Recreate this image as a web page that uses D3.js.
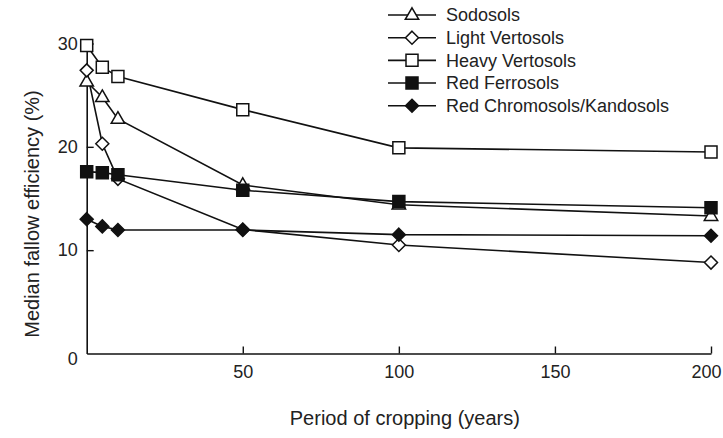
<!DOCTYPE html>
<html>
<head>
<meta charset="utf-8">
<script src="https://cdn.jsdelivr.net/npm/d3@7"></script>
<style>
  html, body { margin: 0; padding: 0; background: #fff; }
  svg { display: block; font-family: "Liberation Sans", Arial, Helvetica, sans-serif; }
</style>
</head>
<body>
<svg id="chart" width="723" height="438"></svg>
<script>
// Period of cropping (years)
const years = [0, 5, 10, 50, 100, 200];

// Median fallow efficiency (%) per soil group
const sodosols       = [26.3, 24.8, 22.7, 16.3, 14.4, 13.3];
const lightVertosols = [27.4, 20.3, 16.9, 12.0, 10.5, 8.8];
const heavyVertosols = [29.8, 27.7, 26.8, 23.6, 19.9, 19.5];
const redFerrosols   = [17.6, 17.5, 17.3, 15.8, 14.7, 14.1];
const redChromosols  = [13.0, 12.3, 11.95, 11.95, 11.5, 11.4];

const seriesNames = ["Sodosols", "Light Vertosols", "Heavy Vertosols", "Red Ferrosols", "Red Chromosols/Kandosols"];
const seriesShapes = ["triangle", "diamond", "square", "square", "diamond"];
const seriesFilled = [false, false, false, true, true];

const xTicks = [50, 100, 150, 200];
const yTicks = [0, 10, 20, 30];

const series = [sodosols, lightVertosols, heavyVertosols, redFerrosols, redChromosols].map((vals, i) => ({
  name: seriesNames[i],
  shape: seriesShapes[i],
  filled: seriesFilled[i],
  points: years.map((yr, j) => ({ x: yr, y: vals[j] }))
}));

const svg = d3.select("#chart");
const textColor = "#222";

const x = d3.scaleLinear().domain([0, 200]).range([86.7, 711]);
const y = d3.scaleLinear().domain([0, 30]).range([353.5, 43.5]);

// marker path generators
const symbolPath = {
  triangle: d3.symbol().type(d3.symbolTriangle).size(78)(),
  diamond: "M0,-6.5L6.5,0L0,6.5L-6.5,0Z",
  square: "M-6,-6H6V6H-6Z"
};
const markerOffset = { triangle: 0.5, diamond: 0, square: 0 };

// axes
const xAxis = d3.axisBottom(x).tickValues(xTicks).tickSizeInner(-7).tickSizeOuter(0).tickPadding(12);
const yAxis = d3.axisLeft(y).tickValues(yTicks).tickSizeInner(-7).tickSizeOuter(0).tickPadding(9);

const gx = svg.append("g").attr("transform", `translate(0,${y(0)})`).call(xAxis);
const gy = svg.append("g").attr("transform", `translate(${x(0)},0)`).call(yAxis);

[gx, gy].forEach(g => {
  g.select(".domain").attr("stroke", "#111").attr("stroke-width", 1.6);
  g.selectAll(".tick line").attr("stroke", "#111").attr("stroke-width", 1.4);
  g.selectAll(".tick text").attr("fill", textColor).attr("font-size", 18)
    .attr("font-family", "Liberation Sans, Arial, sans-serif");
});
// keep the last year label inside the right edge
gx.selectAll(".tick").filter(d => d === 200).select("text").attr("x", -5);
gy.selectAll(".tick").filter(d => d === 0).select("line").remove();
gy.selectAll(".tick").filter(d => d === 0).select("text").attr("dy", "0.62em");

// axis titles
svg.append("text")
  .attr("x", (x(0) + x(200)) / 2 + 6)
  .attr("y", 425)
  .attr("text-anchor", "middle")
  .attr("fill", textColor)
  .attr("font-size", 20)
  .text("Period of cropping (years)");

svg.append("text")
  .attr("transform", `translate(39,214) rotate(-90)`)
  .attr("text-anchor", "middle")
  .attr("fill", textColor)
  .attr("font-size", 20)
  .text("Median fallow efficiency (%)");

// lines
const line = d3.line().x(d => x(d.x)).y(d => y(d.y));
const plot = svg.append("g");

series.forEach(s => {
  plot.append("path")
    .datum(s.points)
    .attr("d", line)
    .attr("fill", "none")
    .attr("stroke", "#111")
    .attr("stroke-width", 1.6);
});

// markers
series.forEach(s => {
  plot.append("g").selectAll("path")
    .data(s.points)
    .join("path")
    .attr("transform", d => `translate(${x(d.x)},${y(d.y) + markerOffset[s.shape]})`)
    .attr("d", symbolPath[s.shape])
    .attr("fill", s.filled ? "#111" : "#fff")
    .attr("stroke", "#111")
    .attr("stroke-width", 1.5);
});

// legend
const legend = svg.append("g");
const legendRowY = d3.scaleLinear().domain([0, 4]).range([15, 105.7]);
series.forEach((s, i) => {
  const ly = legendRowY(i);
  const row = legend.append("g").attr("transform", `translate(0,${ly})`);
  row.append("line")
    .attr("x1", 388).attr("x2", 436)
    .attr("y1", 0).attr("y2", 0)
    .attr("stroke", "#111").attr("stroke-width", 1.6);
  row.append("path")
    .attr("transform", `translate(412,${markerOffset[s.shape]})`)
    .attr("d", symbolPath[s.shape])
    .attr("fill", s.filled ? "#111" : "#fff")
    .attr("stroke", "#111")
    .attr("stroke-width", 1.5);
  row.append("text")
    .attr("x", 446)
    .attr("y", 0)
    .attr("dy", "0.35em")
    .attr("fill", textColor)
    .attr("font-size", 18)
    .text(s.name);
});
</script>
</body>
</html>
